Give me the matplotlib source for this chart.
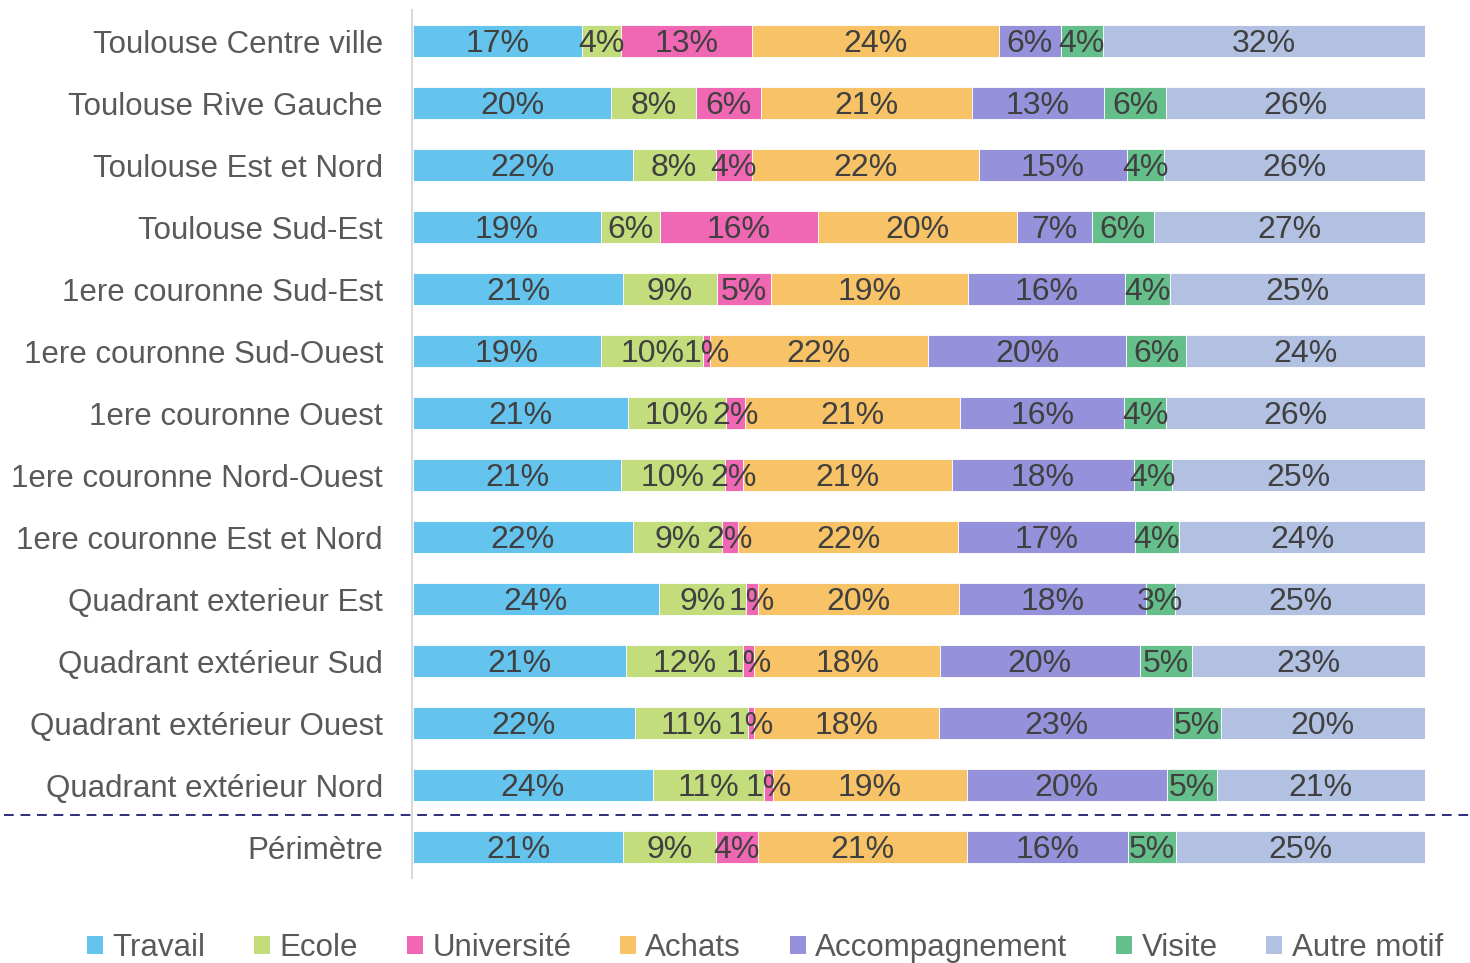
import matplotlib
matplotlib.use("Agg")
import matplotlib.pyplot as plt
from matplotlib.patches import Patch
from matplotlib.lines import Line2D
import numpy as np

plt.rcParams['font.family'] = ['Liberation Sans', 'DejaVu Sans']

categories = [
    "Toulouse Centre ville",
    "Toulouse Rive Gauche",
    "Toulouse Est et Nord",
    "Toulouse Sud-Est",
    "1ere couronne Sud-Est",
    "1ere couronne Sud-Ouest",
    "1ere couronne Ouest",
    "1ere couronne Nord-Ouest",
    "1ere couronne Est et Nord",
    "Quadrant exterieur Est",
    "Quadrant extérieur Sud",
    "Quadrant extérieur Ouest",
    "Quadrant extérieur Nord",
    "Périmètre",
]

series_names = ["Travail", "Ecole", "Université", "Achats", "Accompagnement", "Visite", "Autre motif"]

travail = [16.7, 19.6, 21.7, 18.6, 20.8, 18.6, 21.2, 20.6, 21.7, 24.3, 21.0, 21.9, 23.7, 20.8]
ecole = [3.9, 8.4, 8.2, 5.8, 9.2, 10.1, 9.7, 10.2, 8.8, 8.6, 11.6, 11.2, 11.0, 9.1]
universite = [12.9, 6.4, 3.6, 15.6, 5.4, 0.6, 1.9, 1.8, 1.6, 1.2, 1.1, 0.6, 0.9, 4.2]
achats = [24.4, 20.8, 22.4, 19.7, 19.4, 21.6, 21.3, 20.7, 21.8, 19.9, 18.4, 18.3, 19.1, 20.6]
accompagnement = [6.1, 13.1, 14.7, 7.4, 15.6, 19.6, 16.2, 17.9, 17.4, 18.4, 19.7, 23.1, 19.8, 16.0]
visite = [4.2, 6.1, 3.6, 6.1, 4.4, 5.9, 4.1, 3.8, 4.4, 2.9, 5.2, 4.7, 4.9, 4.7]
autre = [31.8, 25.6, 25.8, 26.8, 25.2, 23.6, 25.6, 25.0, 24.3, 24.7, 23.0, 20.2, 20.6, 24.6]

series = [travail, ecole, universite, achats, accompagnement, visite, autre]
colors = ["#65C4EE", "#C3DC7C", "#F067B4", "#F8C266", "#9592DB", "#65BF8A", "#B2C1E2"]

W, H = 1470, 963
fig = plt.figure(figsize=(W / 100, H / 100), dpi=100)
ax = fig.add_axes([413 / W, 1 - 878 / H, (1425 - 413) / W, (878 - 10) / H])

y = np.arange(len(categories))
left = np.zeros(len(categories))
for name, vals, col in zip(series_names, series, colors):
    vals = np.array(vals)
    ax.barh(y, vals, left=left, height=0.53, color=col, edgecolor='white',
            linewidth=0.6, label=name)
    for yi, l, v in zip(y, left, vals):
        ax.text(l + v / 2, yi + 0.05, f"{round(v):d}%", ha='center', va='center',
                fontsize=23, color='#404040')
    left += vals

ax.set_xlim(0, 100)
ax.set_ylim(len(categories) - 0.5, -0.5)
ax.set_yticks(y)
ax.set_yticklabels(categories)
ax.tick_params(axis='y', length=0, pad=21, labelsize=22.5, labelcolor='#595959')
ax.set_xticks([])
for s in ['top', 'right', 'bottom']:
    ax.spines[s].set_visible(False)
ax.spines['left'].set_color('#D9D9D9')
ax.spines['left'].set_linewidth(1.5)
ax.spines['left'].set_position(('data', -0.08))

# dashed separator between detailed zones and the overall perimeter
ysep = 1 - 814.5 / H
fig.add_artist(Line2D([4 / W, 1.0], [ysep, ysep], transform=fig.transFigure,
                      color='#2E2D7A', linewidth=1.4, linestyle=(0, (5, 3.5))))

handles = [Patch(facecolor=c, edgecolor='none') for c in colors]
fig.legend(handles, series_names, loc='center', bbox_to_anchor=(0.5204, 1 - 948 / H),
           ncol=7, frameon=False, fontsize=22.5, labelcolor='#595959',
           handlelength=0.52, handleheight=0.52, handletextpad=0.3,
           columnspacing=1.55, borderpad=0, borderaxespad=0)

fig.savefig("out.png", dpi=100)
